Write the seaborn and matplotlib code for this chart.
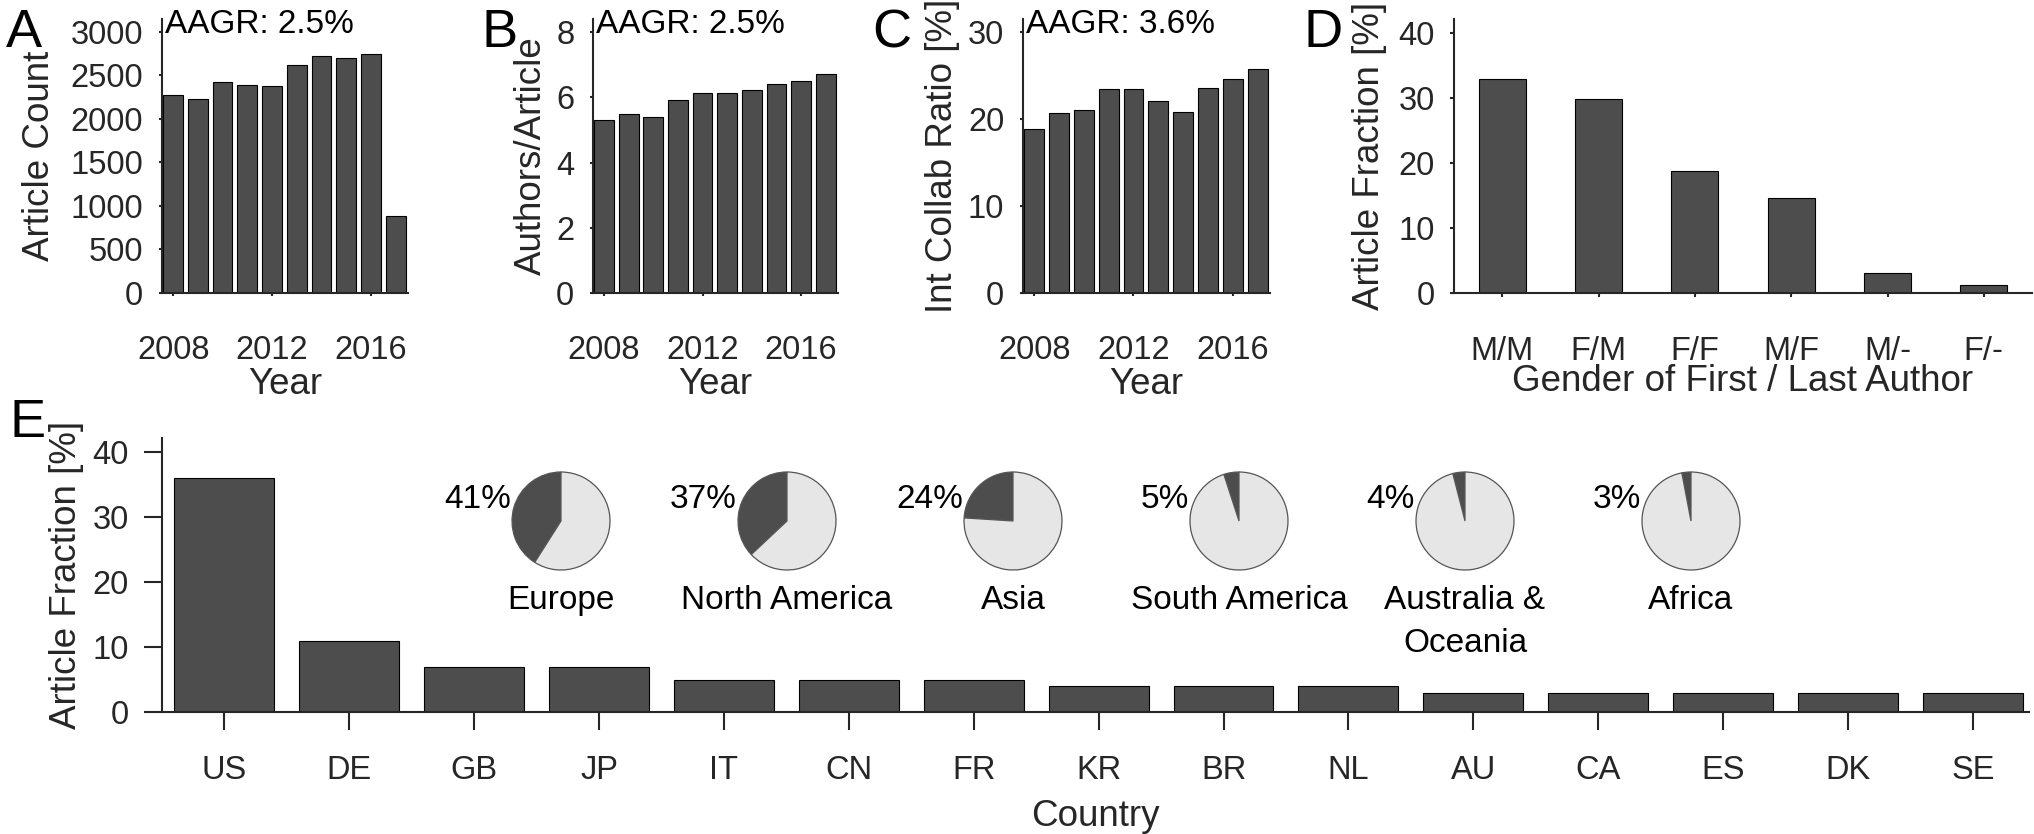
import matplotlib
matplotlib.use("Agg")
import matplotlib.pyplot as plt
import seaborn as sns
import pandas as pd

# data
years = [2008, 2009, 2010, 2011, 2012, 2013, 2014, 2015, 2016, 2017]
article_count = [2280, 2230, 2420, 2390, 2380, 2625, 2720, 2700, 2750, 885]
authors_per_article = [5.30, 5.49, 5.40, 5.93, 6.12, 6.12, 6.22, 6.40, 6.51, 6.70]
int_collab_ratio = [18.9, 20.7, 21.0, 23.5, 23.5, 22.1, 20.8, 23.6, 24.6, 25.7]
aagr_labels = ['AAGR: 2.5%', 'AAGR: 2.5%', 'AAGR: 3.6%']

gender_pairs = ['M/M', 'F/M', 'F/F', 'M/F', 'M/-', 'F/-']
gender_fraction = [32.9, 29.8, 18.8, 14.6, 3.0, 1.3]

countries = ['US', 'DE', 'GB', 'JP', 'IT', 'CN', 'FR', 'KR', 'BR', 'NL',
             'AU', 'CA', 'ES', 'DK', 'SE']
country_fraction = [36, 11, 7, 7, 5, 5, 5, 4, 4, 4, 3, 3, 3, 3, 3]

continents = ['Europe', 'North America', 'Asia', 'South America',
              'Australia &\nOceania', 'Africa']
continent_pct = [41, 37, 24, 5, 4, 3]

BAR = '#4d4d4d'
LIGHT = '#e6e6e6'
AXC = '#262626'
W, H = 2034, 834
TICK = 23.5
LABEL = 26.5
LETTER = 39

sns.set_theme(style='white')
plt.rcParams['font.family'] = ['Liberation Sans', 'DejaVu Sans']
plt.rcParams['axes.edgecolor'] = AXC
plt.rcParams['axes.linewidth'] = 1.5
plt.rcParams['xtick.color'] = AXC
plt.rcParams['ytick.color'] = AXC
plt.rcParams['axes.labelcolor'] = AXC

fig = plt.figure(figsize=(W / 100, H / 100), dpi=100)


def px_axes(left, right, top, bottom):
    return fig.add_axes([left / W, 1 - bottom / H, (right - left) / W, (bottom - top) / H])


def style_axes(ax, xpad, ypad, xlen, ylen, size):
    sns.despine(ax=ax)
    ax.tick_params(axis='x', direction='out', length=xlen, width=1.5, pad=xpad,
                   labelsize=size, bottom=True)
    ax.tick_params(axis='y', direction='out', length=ylen, width=1.5, pad=ypad,
                   labelsize=size, left=True)


def year_panel(left, right, values, ylim, yticks, ylabel, ylpad, letter, lx, aagr):
    ax = px_axes(left, right, 19, 293)
    df = pd.DataFrame({'Year': years, 'value': values})
    sns.barplot(data=df, x='Year', y='value', color=BAR, saturation=1, width=0.8,
                edgecolor='black', linewidth=0.8, ax=ax)
    ax.set_xlim(-0.45, 9.5)
    ax.set_ylim(0, ylim)
    ax.set_xticks([0, 4, 8], ['2008', '2012', '2016'])
    ax.set_yticks(yticks)
    style_axes(ax, 28, 11, 2, 2.5, TICK)
    ax.set_xlabel('Year', fontsize=LABEL, labelpad=1)
    ax.set_ylabel(ylabel, fontsize=LABEL, labelpad=ylpad)
    fig.text(lx / W, 1 - 47 / H, letter, fontsize=LETTER, color='black', va='baseline')
    fig.text((left + 3) / W, 1 - 33 / H, aagr, fontsize=24, color='black', va='baseline')
    return ax


year_panel(162, 408, article_count, 3149, [0, 500, 1000, 1500, 2000, 2500, 3000],
           'Article Count', 10, 'A', 6, aagr_labels[0])
year_panel(593, 838, authors_per_article, 8.4, [0, 2, 4, 6, 8],
           'Authors/Article', 5, 'B', 481, aagr_labels[1])
year_panel(1023, 1270, int_collab_ratio, 31.5, [0, 10, 20, 30],
           'Int Collab Ratio [%]', 6, 'C', 872, aagr_labels[2])

# panel D
axd = px_axes(1454, 2032, 19, 293)
dfd = pd.DataFrame({'pair': gender_pairs, 'frac': gender_fraction})
sns.barplot(data=dfd, x='pair', y='frac', color=BAR, saturation=1, width=0.49,
            edgecolor='black', linewidth=0.8, ax=axd)
axd.set_xlim(-0.5, 5.5)
axd.set_ylim(0, 42.1)
axd.set_yticks([0, 10, 20, 30, 40])
style_axes(axd, 28, 11, 3, 3, TICK)
axd.set_xlabel('Gender of First / Last Author', fontsize=LABEL, labelpad=-2)
axd.set_ylabel('Article Fraction [%]', fontsize=LABEL, labelpad=8)
fig.text(1304 / W, 1 - 47 / H, 'D', fontsize=LETTER, color='black', va='baseline')

# panel E
axe = px_axes(162, 2029, 438, 712)
dfe = pd.DataFrame({'country': countries, 'frac': country_fraction})
sns.barplot(data=dfe, x='country', y='frac', color=BAR, saturation=1, width=0.8,
            edgecolor='black', linewidth=0.8, ax=axe)
axe.set_xlim(-0.5, 14.45)
axe.set_ylim(0, 42.2)
axe.set_yticks([0, 10, 20, 30, 40])
style_axes(axe, 18, 11, 13, 13, TICK)
axe.set_xlabel('Country', fontsize=LABEL, labelpad=9)
axe.set_ylabel('Article Fraction [%]', fontsize=LABEL, labelpad=6)
fig.text(9 / W, 1 - 437 / H, 'E', fontsize=LETTER, color='black', va='baseline')

# continent pies
r = 49
cy = 521
for i, (name, pct) in enumerate(zip(continents, continent_pct)):
    cx = 561 + 226 * i
    s = r * 1.04
    pax = fig.add_axes([(cx - s) / W, 1 - (cy + s) / H, 2 * s / W, 2 * s / H])
    pax.pie([pct, 100 - pct], colors=[BAR, LIGHT], startangle=90, counterclock=True,
            wedgeprops={'edgecolor': '#555555', 'linewidth': 0.9})
    pax.set_xlim(-1.04, 1.04)
    pax.set_ylim(-1.04, 1.04)
    pax.axis('off')
    pax.text(-1.02, 0.265, f'{pct}%', fontsize=24, color='black', ha='right', va='baseline')
    pax.text(0, -1.31, name, fontsize=24, color='black', ha='center', va='top',
             linespacing=1.48)

fig.savefig('out.png', dpi=100)
